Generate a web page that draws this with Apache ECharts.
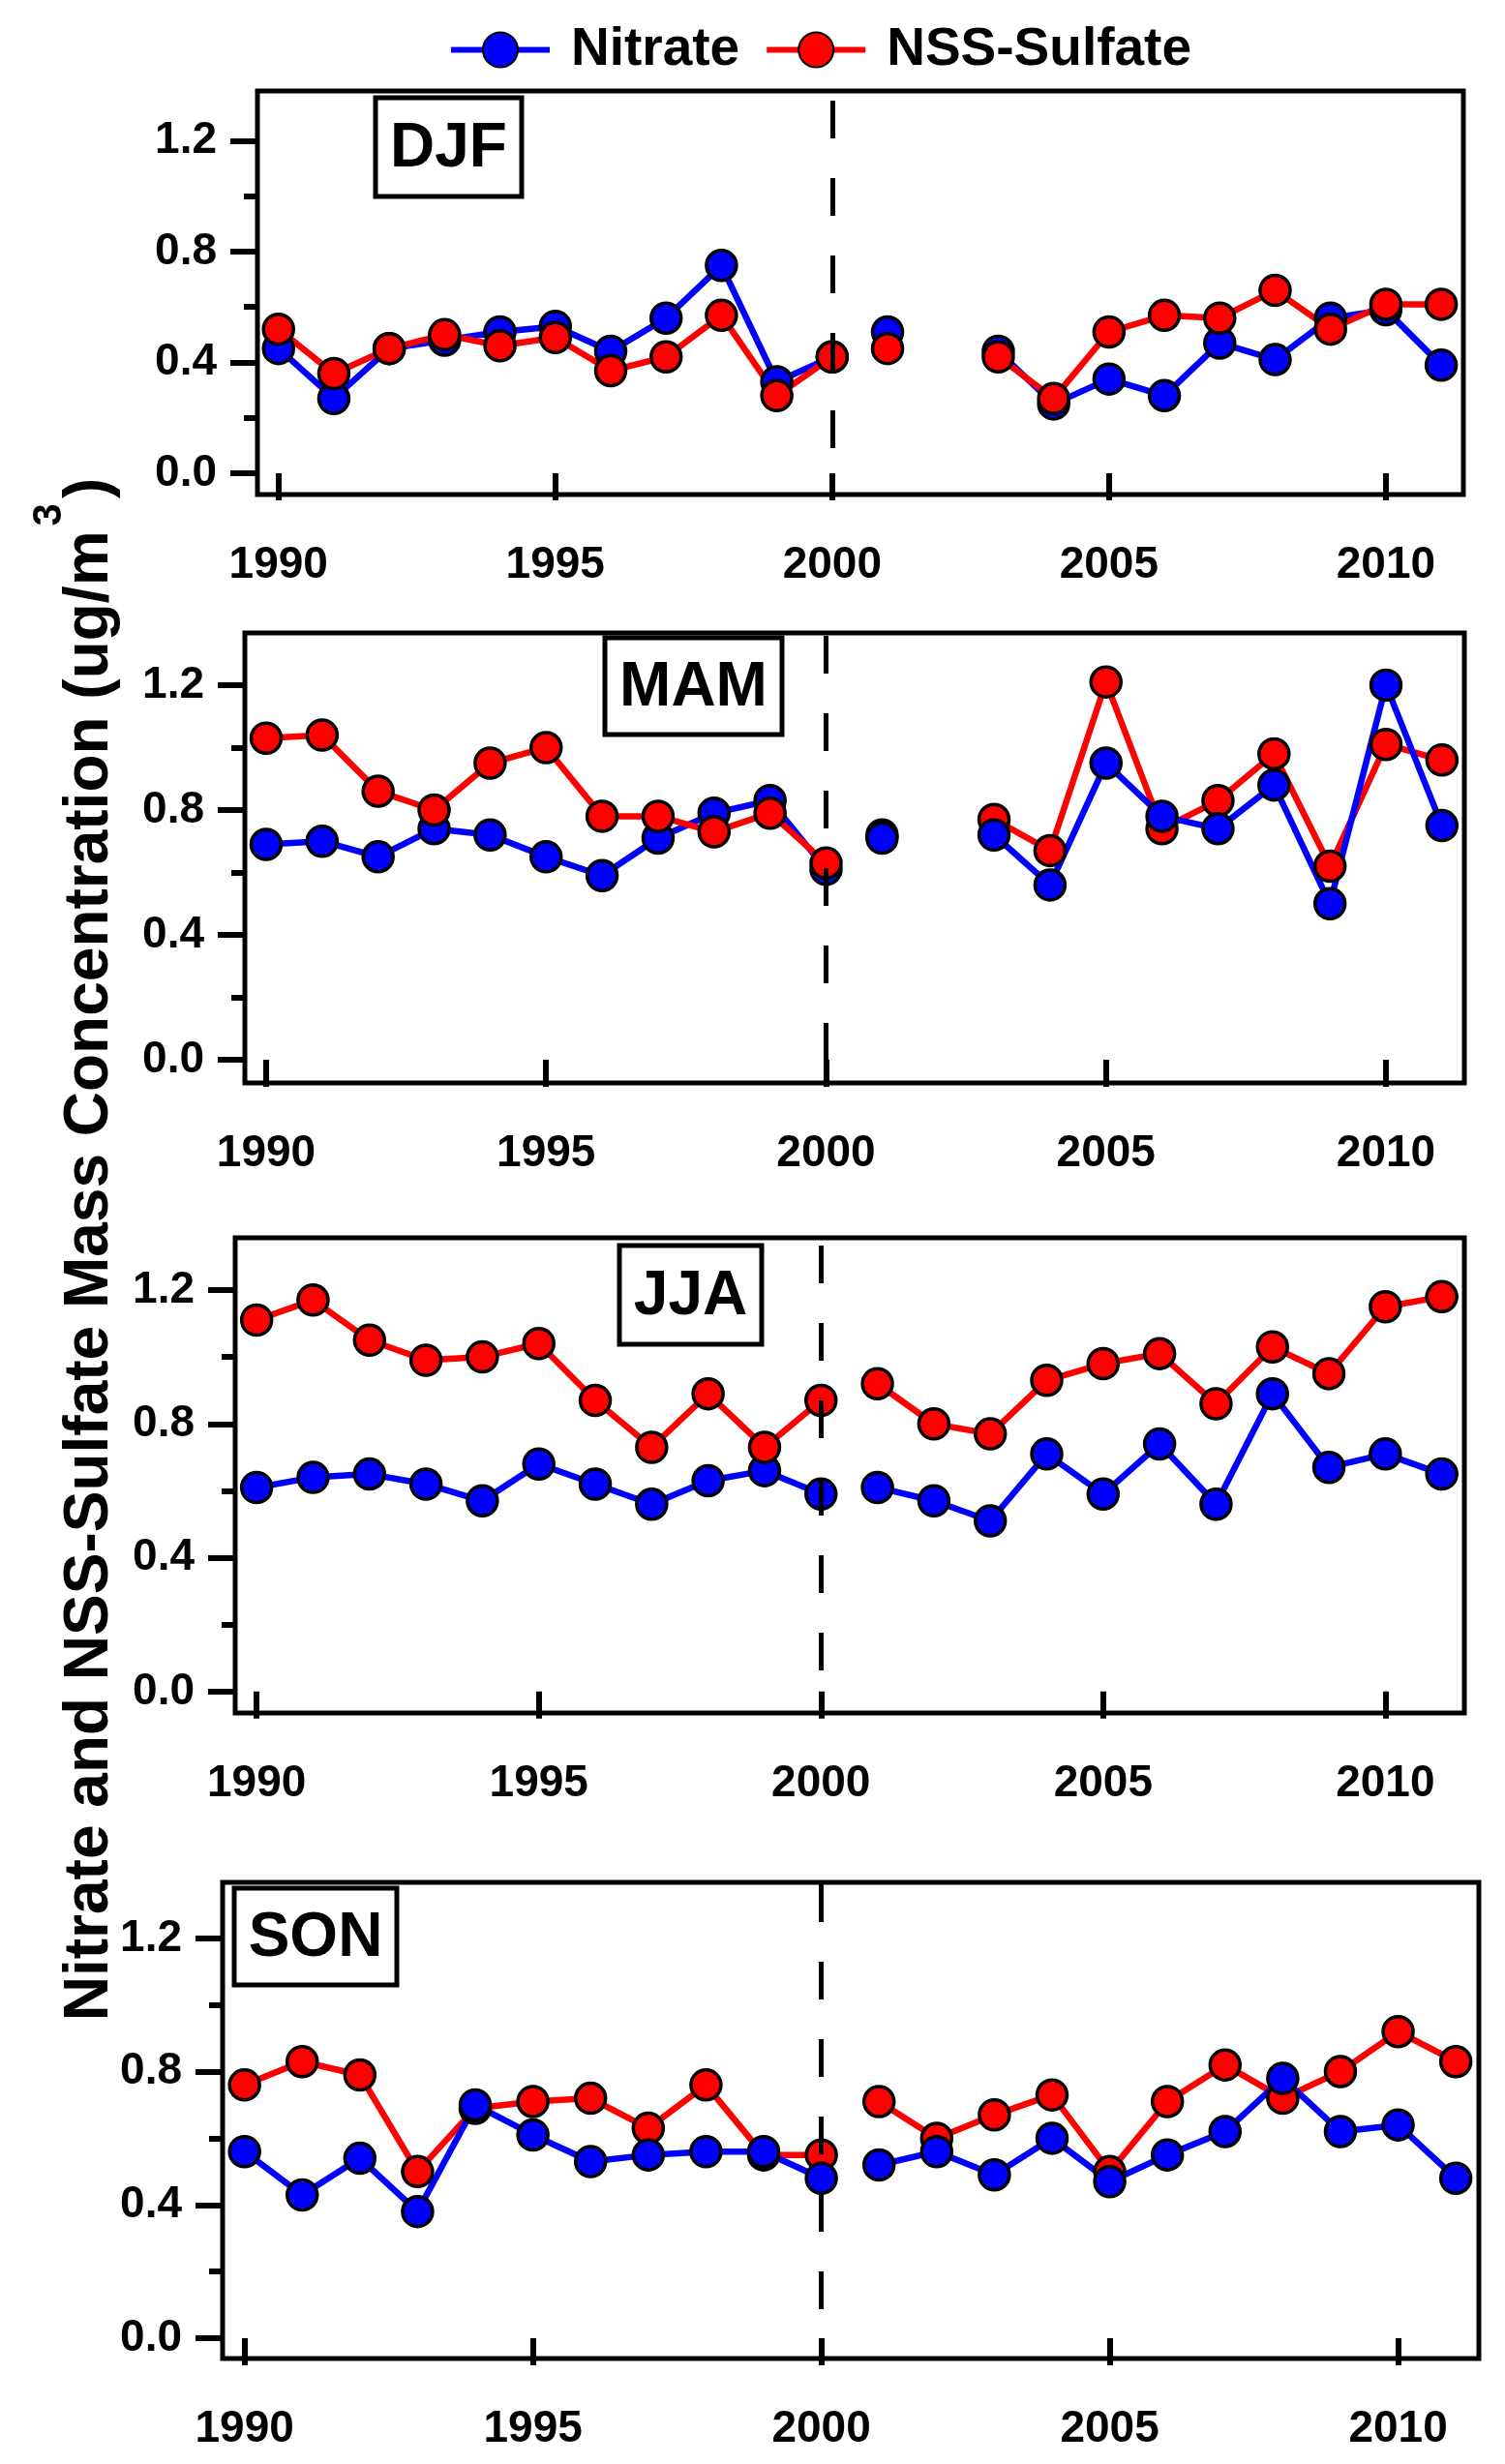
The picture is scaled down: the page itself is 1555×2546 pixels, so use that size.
<!DOCTYPE html>
<html><head><meta charset="utf-8">
<script src="https://cdn.jsdelivr.net/npm/echarts@6/dist/echarts.min.js"></script>
<style>html,body{margin:0;padding:0;background:#fff}#c{width:1555px;height:2546px}</style>
</head><body><div id="c"></div>
<script>
// ---------------- data ----------------
const years = [1990,1991,1992,1993,1994,1995,1996,1997,1998,1999,2000,2001,2002,2003,2004,2005,2006,2007,2008,2009,2010,2011];
const seasons = ['DJF','MAM','JJA','SON'];
const seriesNames = ['Nitrate','NSS-Sulfate'];

const djfNitrate = [0.45,0.27,0.45,0.48,0.51,0.53,0.44,0.56,0.75,0.33,0.42, 0.51,null,0.44,0.25,0.34,0.28,0.47,0.41,0.56,0.59,0.39];
const djfSulfate = [0.52,0.36,0.45,0.50,0.46,0.49,0.37,0.42,0.57,0.28,0.42, 0.45,null,0.42,0.27,0.51,0.57,0.56,0.66,0.52,0.61,0.61];

const mamNitrate = [0.69,0.70,0.65,0.74,0.72,0.65,0.59,0.71,0.79,0.83,0.61, 0.71,null,0.72,0.56,0.95,0.78,0.74,0.88,0.50,1.20,0.75];
const mamSulfate = [1.03,1.04,0.86,0.80,0.95,1.00,0.78,0.78,0.73,0.79,0.63, 0.72,null,0.77,0.67,1.21,0.74,0.83,0.98,0.62,1.01,0.96];

const jjaNitrate = [0.61,0.64,0.65,0.62,0.57,0.68,0.62,0.56,0.63,0.66,0.59, 0.61,0.57,0.51,0.71,0.59,0.74,0.56,0.89,0.67,0.71,0.65];
const jjaSulfate = [1.11,1.17,1.05,0.99,1.00,1.04,0.87,0.73,0.89,0.73,0.87, 0.92,0.80,0.77,0.93,0.98,1.01,0.86,1.03,0.95,1.15,1.18];

const sonNitrate = [0.56,0.43,0.54,0.38,0.70,0.61,0.53,0.55,0.56,0.56,0.48, 0.52,0.56,0.49,0.60,0.47,0.55,0.62,0.78,0.62,0.64,0.48];
const sonSulfate = [0.76,0.83,0.79,0.50,0.69,0.71,0.72,0.63,0.76,0.55,0.55, 0.71,0.60,0.67,0.73,0.50,0.71,0.82,0.72,0.80,0.92,0.83];

const xTickLabels = [1990,1995,2000,2005,2010];
const yTickLabels = [0.0,0.4,0.8,1.2];
const yMinorTicks = [0.2,0.6,1.0];
const breakYear = 2000;   // dashed divider; lines are not joined across it

const titleMain = 'Nitrate and NSS-Sulfate Mass Concentration (ug/m';
const titleSup = '3';
const titleEnd = ')';

// ---------------- layout / style ----------------
const FONT = '"Liberation Sans", Arial, Helvetica, sans-serif';
const BLUE = '#0000FF', RED = '#FF0000';
const xMin = 1989.62, xMax = 2011.4;

const panels = [
  {label:seasons[0], nit:djfNitrate, sul:djfSulfate, grid:{left:266,top:94,width:1246,height:417},  yMin:-0.077, yMax:1.38,  box:[388,101,151,102], topFirst:[['n','s'],['n','s']], gap:10},
  {label:seasons[1], nit:mamNitrate, sul:mamSulfate, grid:{left:253,top:654,width:1260,height:465}, yMin:-0.074, yMax:1.367, box:[625,659,183,100], topFirst:[['n','s'],['s','n']], gap:3},
  {label:seasons[2], nit:jjaNitrate, sul:jjaSulfate, grid:{left:243,top:1279,width:1270,height:491},yMin:-0.064, yMax:1.356, box:[640,1287,147,102], topFirst:[['n','s'],['n','s']], gap:8},
  {label:seasons[3], nit:sonNitrate, sul:sonSulfate, grid:{left:230,top:1945,width:1298,height:492},yMin:-0.061, yMax:1.368, box:[242,1951,168,100], topFirst:[['s','n'],['s','n']], gap:2}
];

function segment(vals, fromIdx, toIdx){
  const out = [];
  for (let i = fromIdx; i < toIdx; i++) out.push([years[i], vals[i] == null ? '-' : vals[i]]);
  return out;
}

const grids = [], xAxes = [], yAxes = [], series = [], graphics = [];
const splitIdx = years.indexOf(breakYear) + 1;

panels.forEach((p, k) => {
  grids.push(Object.assign({show:true, borderColor:'#000', borderWidth:5, backgroundColor:'transparent', containLabel:false}, p.grid));
  xAxes.push({
    gridIndex:k, type:'value', min:xMin, max:xMax,
    axisLine:{show:false}, splitLine:{show:false},
    axisTick:{show:true, inside:false, length:28, lineStyle:{color:'#000', width:6}, customValues:xTickLabels},
    axisLabel:{customValues:xTickLabels, margin:50, fontSize:46, fontWeight:'bold', fontFamily:FONT, color:'#000', formatter:v=>String(v)}
  });
  yAxes.push({
    gridIndex:k, type:'value', min:p.yMin, max:p.yMax, position:'left',
    axisLine:{show:false}, splitLine:{show:false},
    axisTick:{show:true, inside:false, length:28, lineStyle:{color:'#000', width:6}, customValues:yTickLabels},
    axisLabel:{customValues:yTickLabels, margin:42, fontSize:46, fontWeight:'bold', fontFamily:FONT, color:'#000', formatter:v=>v.toFixed(1)}
  });
  yAxes.push({
    gridIndex:k, type:'value', min:p.yMin, max:p.yMax, position:'left',
    axisLine:{show:false}, splitLine:{show:false},
    axisTick:{show:true, inside:false, length:14, lineStyle:{color:'#000', width:6}, customValues:yMinorTicks},
    axisLabel:{show:false}
  });
  const segs = [[0, splitIdx], [splitIdx, years.length]];
  segs.forEach((sg, si) => {
    p.topFirst[si].forEach(which => {
      const isN = which === 'n';
      const col = isN ? BLUE : RED;
      series.push({
        type:'line', name: isN ? seriesNames[0] : seriesNames[1],
        xAxisIndex:k, yAxisIndex:2*k,
        data: segment(isN ? p.nit : p.sul, sg[0], sg[1]),
        symbol:'circle', symbolSize:31, showSymbol:true, showAllSymbol:true,
        connectNulls:false, silent:true, animation:false, z:2,
        lineStyle:{color:col, width:6.5},
        itemStyle:{color:col, borderColor:'#000', borderWidth:3.5}
      });
    });
  });
  // dashed divider
  series.push({
    type:'line', name:'divider'+k, xAxisIndex:k, yAxisIndex:2*k, data:[], silent:true, animation:false,
    markLine:{silent:true, symbol:['none','none'], label:{show:false}, animation:false,
      lineStyle:{color:'#000', width:5, type:[39,41], dashOffset:80 - p.gap},
      emphasis:{disabled:true},
      data:[[{coord:[breakYear, p.yMax]},{coord:[breakYear, p.yMin]}]]}
  });
  // season label box
  const b = p.box;
  graphics.push({type:'rect', shape:{x:b[0], y:b[1], width:b[2], height:b[3]}, style:{fill:'#fff', stroke:'#000', lineWidth:5}, z:100, silent:true});
  graphics.push({type:'text', x:b[0]+b[2]/2, y:b[1]+b[3]/2+2, z:101, silent:true,
    style:{text:p.label, fontSize:64, fontWeight:'bold', fontFamily:FONT, fill:'#000', align:'center', verticalAlign:'middle'}});
});

// y-axis title (rotated, with superscript) — pieces laid out using measured widths
(function(){
  const ctx = document.createElement('canvas').getContext('2d');
  const mainSize = 64, supSize = 42;
  ctx.font = 'bold ' + mainSize + 'px ' + FONT;
  const wMain = ctx.measureText(titleMain).width;
  const wEnd = ctx.measureText(titleEnd).width;
  ctx.font = 'bold ' + supSize + 'px ' + FONT;
  const wSup = ctx.measureText(titleSup).width;
  const g1 = 5, g2 = 5;
  const total = wMain + g1 + wSup + g2 + wEnd;
  const cy = 1291, baseX = 93, supX = 51;
  const y0 = cy + total / 2;
  const common = {fontWeight:'bold', fontFamily:FONT, fill:'#000', verticalAlign:'middle'};
  graphics.push({type:'text', x:baseX, y:y0, rotation:Math.PI/2, z:100, silent:true,
    style:Object.assign({text:titleMain, fontSize:mainSize, align:'left'}, common)});
  graphics.push({type:'text', x:supX, y:y0 - wMain - g1, rotation:Math.PI/2, z:100, silent:true,
    style:Object.assign({text:titleSup, fontSize:supSize, align:'left'}, common)});
  graphics.push({type:'text', x:baseX, y:y0 - wMain - g1 - wSup - g2, rotation:Math.PI/2, z:100, silent:true,
    style:Object.assign({text:titleEnd, fontSize:mainSize, align:'left'}, common)});
})();

const chart = echarts.init(document.getElementById('c'), null, {renderer:'canvas', width:1555, height:2546});
chart.setOption({
  animation:false,
  backgroundColor:'#fff',
  textStyle:{fontFamily:FONT},
  legend:{
    data:seriesNames, left:458, top:19, itemWidth:102, itemHeight:45, itemGap:25, selectedMode:false,
    lineStyle:{width:6},
    textStyle:{fontSize:55, fontWeight:'bold', fontFamily:FONT, color:'#000', padding:[0,0,0,17]}
  },
  grid:grids, xAxis:xAxes, yAxis:yAxes, series:series, graphic:graphics
});
</script></body></html>
